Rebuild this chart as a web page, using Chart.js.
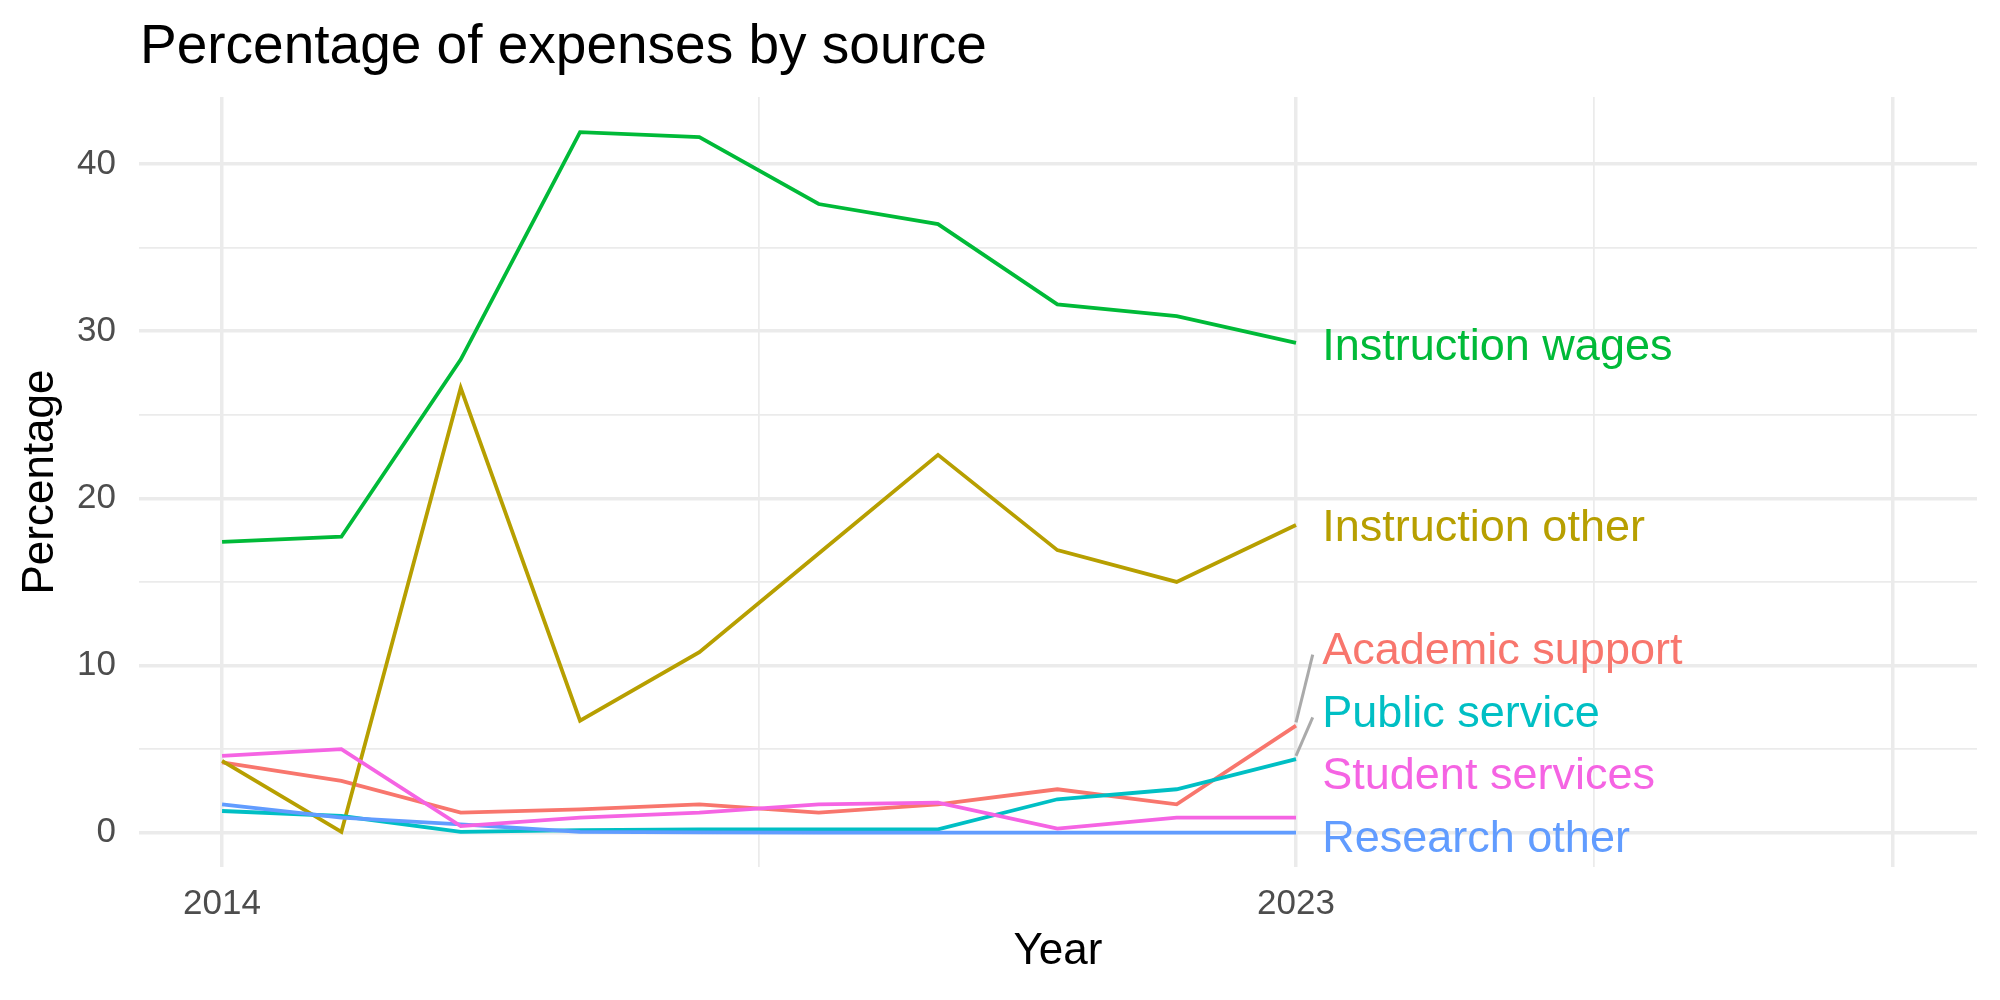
<!DOCTYPE html>
<html>
<head>
<meta charset="utf-8">
<script src="https://cdn.jsdelivr.net/npm/chart.js@4.4.1/dist/chart.umd.min.js"></script>
<style>
  html, body { margin: 0; padding: 0; background: #fff; }
  #wrap { width: 2000px; height: 1000px; }
</style>
</head>
<body>
<div id="wrap"><canvas id="chart" width="2000" height="1000"></canvas></div>
<script>
// Percentage of expenses by source, 2014-2023

const chartTitle = 'Percentage of expenses by source';
const years = [2014, 2015, 2016, 2017, 2018, 2019, 2020, 2021, 2022, 2023];

const seriesNames = ['Academic support', 'Instruction other', 'Instruction wages',
  'Public service', 'Research other', 'Student services'];

const academicSupport = [4.2, 3.1, 1.2, 1.4, 1.7, 1.2, 1.7, 2.6, 1.7, 6.4];
const instructionOther = [4.3, 0.05, 26.6, 6.7, 10.8, 16.7, 22.6, 16.9, 15.0, 18.4];
const instructionWages = [17.4, 17.7, 28.3, 41.9, 41.6, 37.6, 36.4, 31.6, 30.9, 29.3];
const publicService = [1.3, 1.0, 0.05, 0.15, 0.2, 0.2, 0.2, 2.0, 2.6, 4.4];
const researchOther = [1.7, 0.9, 0.5, 0.05, 0.02, 0, 0, 0, 0, 0];
const studentServices = [4.6, 5.0, 0.4, 0.9, 1.2, 1.7, 1.8, 0.25, 0.9, 0.9];

// where the repelled end labels ended up (in percentage units)
const labelValues = [11.05, 18.4, 29.25, 7.3, -0.2, 3.57];
const labelHasSegment = [true, false, false, true, false, false];

const xGridValues = [2014, 2018.5, 2023, 2025.5, 2028];
const xGridLabels = ['2014', '', '2023', '', ''];
const xGridMajor = [true, false, true, false, true];
const yGridValues = [0, 5, 10, 15, 20, 25, 30, 35, 40];
const yGridLabels = ['0', '', '10', '', '20', '', '30', '', '40'];

const palette = ['#F8766D', '#B79F00', '#00BA38', '#00BFC4', '#619CFF', '#F564E3'];
const allSeries = [academicSupport, instructionOther, instructionWages,
  publicService, researchOther, studentServices];

const FONT = '"Liberation Sans", Arial, Helvetica, sans-serif';
const labelGap = 0.22;      // years between last point and label
const lastYear = years[years.length - 1];

Chart.defaults.font.family = FONT;

const datasets = [];
allSeries.forEach((vals, i) => {
  datasets.push({
    label: seriesNames[i],
    data: years.map((y, j) => ({ x: y, y: vals[j] })),
    borderColor: palette[i],
    borderWidth: 3.8,
    pointRadius: 0,
    fill: false,
    tension: 0,
    order: allSeries.length - i   // later groups on top, like ggplot
  });
});

// leader segments from last point to the moved label
allSeries.forEach((vals, i) => {
  if (!labelHasSegment[i]) return;
  datasets.push({
    label: seriesNames[i] + ' segment',
    data: [
      { x: lastYear, y: vals[vals.length - 1] + 0.2 },
      { x: lastYear + labelGap - 0.08, y: labelValues[i] - 0.4 }
    ],
    borderColor: '#AAAAAA',
    borderWidth: 3,
    pointRadius: 0,
    fill: false,
    order: -1
  });
});

const endLabels = {
  id: 'endLabels',
  afterDatasetsDraw(chart) {
    const { ctx, scales } = chart;
    const size = 45;
    ctx.save();
    ctx.font = size + 'px ' + FONT;
    ctx.textAlign = 'left';
    ctx.textBaseline = 'alphabetic';
    seriesNames.forEach((name, i) => {
      const px = scales.x.getPixelForValue(lastYear + labelGap);
      const py = scales.y.getPixelForValue(labelValues[i]) + size * 0.36;
      ctx.fillStyle = palette[i];
      ctx.fillText(name, px, py);
    });
    ctx.restore();
  }
};

const plotTitle = {
  id: 'plotTitle',
  afterDraw(chart) {
    const ctx = chart.ctx;
    ctx.save();
    ctx.font = '55px ' + FONT;
    ctx.fillStyle = '#000000';
    ctx.textAlign = 'left';
    ctx.textBaseline = 'alphabetic';
    ctx.fillText(chartTitle, chart.chartArea.left + 1, 63);
    ctx.restore();
  }
};

new Chart(document.getElementById('chart').getContext('2d'), {
  type: 'line',
  data: { datasets },
  options: {
    responsive: false,
    animation: false,
    devicePixelRatio: 1,
    layout: { padding: { top: 97, right: 23, left: 0, bottom: 0 } },
    plugins: {
      legend: { display: false },
      tooltip: { enabled: false },
      title: { display: false }
    },
    scales: {
      x: {
        type: 'linear',
        position: 'bottom',
        min: 2013.304,
        max: 2028.707,
        afterBuildTicks: (scale) => { scale.ticks = xGridValues.map(v => ({ value: v })); },
        afterFit: (scale) => { scale.height = 133; },
        grid: {
          color: '#EBEBEB',
          lineWidth: (c) => (xGridMajor[c.index] ? 3.5 : 1.75),
          drawTicks: false
        },
        border: { display: false },
        ticks: {
          autoSkip: false,
          maxRotation: 0,
          padding: 16,
          color: '#4D4D4D',
          font: { size: 35 },
          callback: (value, index) => xGridLabels[index]
        },
        title: {
          display: true,
          text: 'Year',
          color: '#000000',
          font: { size: 44 },
          padding: { top: 0, bottom: 22 }
        }
      },
      y: {
        position: 'left',
        min: -2.05,
        max: 44.0,
        afterBuildTicks: (scale) => { scale.ticks = yGridValues.map(v => ({ value: v })); },
        afterFit: (scale) => { scale.width = 139; },
        grid: {
          color: '#EBEBEB',
          lineWidth: (c) => (c.index % 2 === 0 ? 3.5 : 1.75),
          drawTicks: false
        },
        border: { display: false },
        ticks: {
          autoSkip: false,
          padding: 23,
          color: '#4D4D4D',
          font: { size: 35 },
          callback: (value, index) => yGridLabels[index]
        },
        title: {
          display: true,
          text: 'Percentage',
          color: '#000000',
          font: { size: 44 },
          padding: { top: 14, bottom: 0 }
        }
      }
    }
  },
  plugins: [endLabels, plotTitle]
});
</script>
</body>
</html>
